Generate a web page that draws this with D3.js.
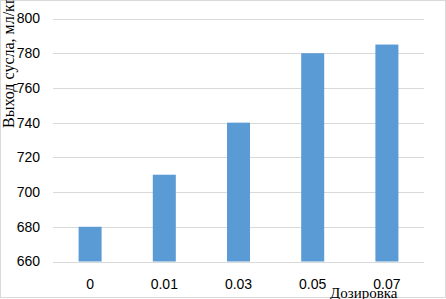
<!DOCTYPE html>
<html>
<head>
<meta charset="utf-8">
<script src="https://cdn.jsdelivr.net/npm/d3@7"></script>
<style>
  body { margin: 0; background: #fff; }
  svg { display: block; }
</style>
</head>
<body>
<div id="chart"></div>
<script>
var width = 446;
var height = 299;

const categories = ["0", "0.01", "0.03", "0.05", "0.07"];
const values = [680, 710, 740, 780, 785];
const yTicks = [660, 680, 700, 720, 740, 760, 780, 800];

const svg = d3.select("#chart")
    .append("svg")
    .attr("width", width)
    .attr("height", height);

// chart border
svg.append("rect")
    .attr("x", 0.5).attr("y", 0.5)
    .attr("width", width - 1).attr("height", height - 2)
    .attr("fill", "#fff")
    .attr("stroke", "#d9d9d9");

var x = d3.scaleBand()
    .domain(categories)
    .range([53, 424])
    .paddingInner(0.69)
    .paddingOuter(0.345);

var y = d3.scaleLinear()
    .domain([660, 800])
    .range([261.5, 18.5]);

// gridlines
svg.selectAll(".grid")
    .data(yTicks)
    .enter().append("line")
    .attr("x1", 53).attr("x2", 424)
    .attr("y1", d => Math.round(y(d)) + 0.5)
    .attr("y2", d => Math.round(y(d)) + 0.5)
    .attr("stroke", "#d9d9d9")
    .attr("stroke-width", 1);

// y tick labels
svg.selectAll(".ytick")
    .data(yTicks)
    .enter().append("text")
    .attr("x", 40)
    .attr("y", d => y(d))
    .attr("dy", "0.35em")
    .attr("text-anchor", "end")
    .attr("font-family", "Liberation Sans, Arial, sans-serif")
    .attr("font-size", 14)
    .attr("fill", "#000")
    .text(d => d);

// bars
svg.selectAll(".bar")
    .data(values)
    .enter().append("rect")
    .attr("x", (d, i) => x(categories[i]))
    .attr("y", d => y(d))
    .attr("width", x.bandwidth())
    .attr("height", d => y(660) - y(d))
    .attr("fill", "#5b9bd5");

// x tick labels
svg.selectAll(".xtick")
    .data(categories)
    .enter().append("text")
    .attr("x", d => x(d) + x.bandwidth() / 2)
    .attr("y", 289)
    .attr("text-anchor", "middle")
    .attr("font-family", "Liberation Sans, Arial, sans-serif")
    .attr("font-size", 14)
    .attr("fill", "#000")
    .text(d => d);

// axis titles
svg.append("text")
    .attr("transform", "translate(14,128) rotate(-90)")
    .attr("font-family", "Liberation Serif, Times New Roman, serif")
    .attr("font-size", 16)
    .attr("fill", "#000")
    .text("Выход сусла, мл/кг");

svg.append("text")
    .attr("x", 330)
    .attr("y", 298)
    .attr("font-family", "Liberation Serif, Times New Roman, serif")
    .attr("font-size", 15)
    .attr("fill", "#000")
    .text("Дозировка");
</script>
</body>
</html>
